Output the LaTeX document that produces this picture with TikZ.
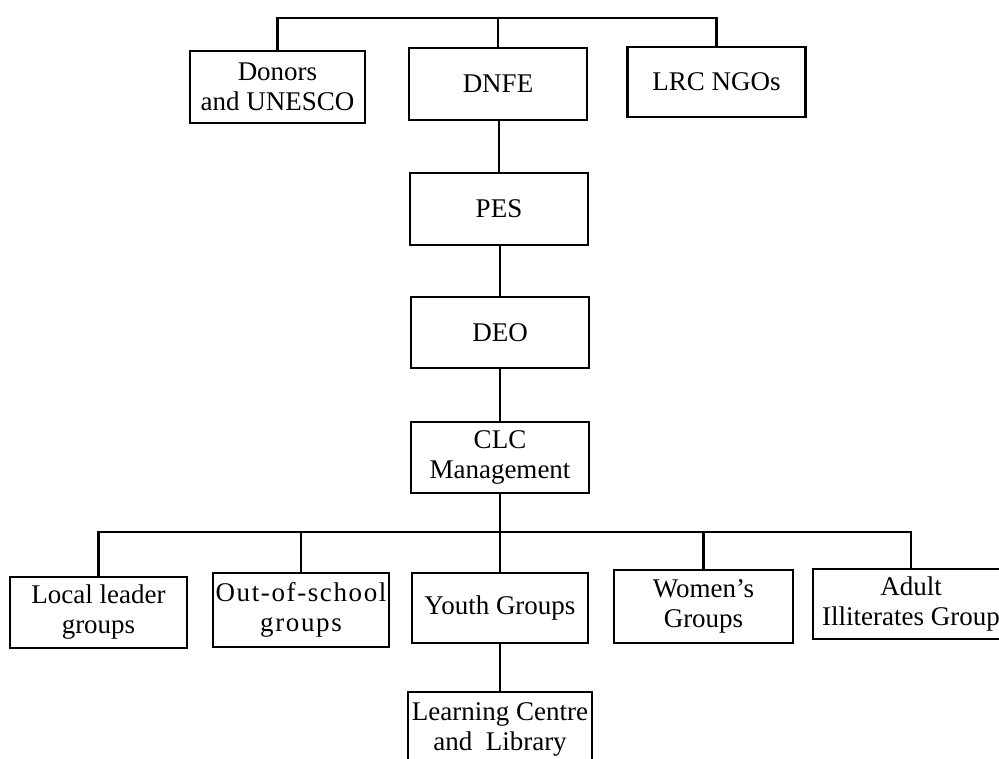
\documentclass[tikz,border=0pt]{standalone}
\usepackage{fontspec}
\setmainfont{Liberation Serif}
\begin{document}
\begin{tikzpicture}[x=1pt,y=-1pt,
  line width=2.1pt,
  unit/.style={draw, rectangle, align=center, inner sep=0pt,
    minimum height=72pt, font=\fontsize{27}{30}\selectfont},
  wide/.style={unit, minimum width=178pt},
  link/.style={draw, line cap=rect}]
\useasboundingbox (0,0) rectangle (999,758);

% top tier
\node[wide, minimum width=175pt] (donors) at (277.5,87) {Donors\\and UNESCO};
\node[wide] (dnfe) at (498,84) {DNFE};
\node[wide, minimum height=70pt] (lrc) at (716.5,82) {LRC NGOs};

% chain of offices
\node[wide] (pes) at (499,209) {PES};
\node[wide, minimum height=71pt] (deo) at (500,332.5) {DEO};
\node[wide, minimum height=71pt] (clc) at (500,457.5) {CLC\\Management};

% community groups
\node[wide, minimum width=177pt, minimum height=71pt] (local) at (98.5,612.5) {Local leader\\groups};
\node[wide, minimum width=176pt, minimum height=74pt,
  font=\fontsize{27}{30}\selectfont\addfontfeature{LetterSpace=6}] (outschool) at (301,610) {Out-of-school\\groups};
\node[wide, minimum width=176pt, minimum height=70pt] (youth) at (500,608) {Youth Groups};
\node[wide, minimum width=179pt, minimum height=73pt] (women) at (703.5,606.5) {Women’s\\Groups};
\node[wide, minimum width=196pt, minimum height=70pt] (adult) at (911,604) {Adult\\Illiterates Group};
\node[wide, minimum width=184pt, minimum height=74pt] (learning) at (500,729) {Learning Centre\\and\ \ Library};

% bus lines
\coordinate (topbar) at (0,18);
\coordinate (lowbar) at (0,532);

% connectors, top tier
\draw[link] (donors.north) |- (lrc.north |- topbar) -- (lrc.north);
\draw[link] (dnfe.north) -- (dnfe.north |- topbar);
\draw[link] (pes.north |- dnfe.south) -- (pes.north);
\draw[link] (deo.north |- pes.south) -- (deo.north);
\draw[link] (deo.south) -- (clc.north);

% connectors, community groups
\draw[link] (local.north) |- (adult.north |- lowbar) -- (adult.north);
\draw[link] (outschool.north) -- (outschool.north |- lowbar);
\draw[link] (women.north) -- (women.north |- lowbar);
\draw[link] (clc.south) -- (youth.north);
\draw[link] (youth.south) -- (learning.north);
\end{tikzpicture}
\end{document}
